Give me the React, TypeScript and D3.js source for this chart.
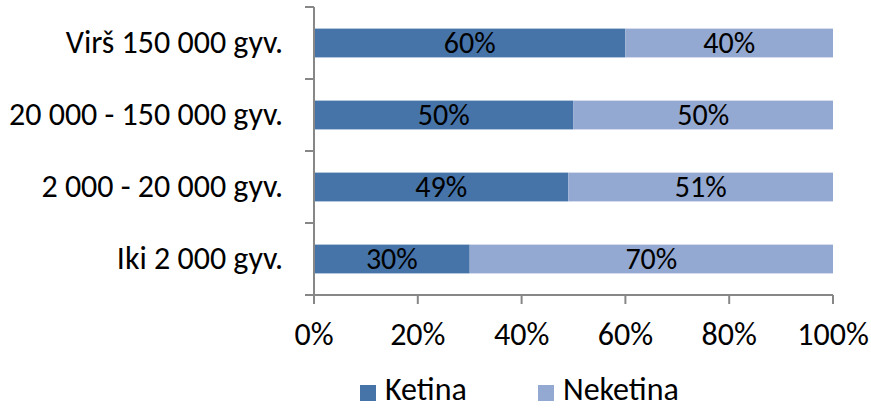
import React, { useRef, useEffect } from "react";
import * as d3 from "d3";

const categories = [
  "Virš 150 000 gyv.",
  "20 000 - 150 000 gyv.",
  "2 000 - 20 000 gyv.",
  "Iki 2 000 gyv.",
];
const ketina = [60, 50, 49, 30];
const neketina = [40, 50, 51, 70];
const seriesNames = ["Ketina", "Neketina"];
const xTicks = [0, 20, 40, 60, 80, 100];

const colors = ["#4674A9", "#94A9D1"];
const FONT = "Carlito, Lato, sans-serif";

const App = () => {
  const ref = useRef<SVGSVGElement>(null);

  useEffect(() => {
    const svg = d3.select(ref.current);
    svg.selectAll("*").remove();

    const W = 871;
    const H = 409;
    svg.attr("width", W).attr("height", H);

    const left = 314;
    const right = 833;
    const top = 7;
    const bottom = 295;

    const x = d3.scaleLinear().domain([0, 100]).range([left, right]);
    const y = d3
      .scaleBand()
      .domain(categories)
      .range([top, bottom])
      .paddingInner(0.6)
      .paddingOuter(0.3);

    const rows = categories.map((c, i) => ({
      cat: c,
      Ketina: ketina[i],
      Neketina: neketina[i],
    }));
    const stacked = d3.stack<any>().keys(seriesNames)(rows);

    // bars + value labels
    stacked.forEach((layer, li) => {
      const g = svg.append("g");
      g.selectAll("rect")
        .data(layer)
        .enter()
        .append("rect")
        .attr("x", (d) => x(d[0]))
        .attr("y", (d) => y(d.data.cat)!)
        .attr("width", (d) => x(d[1]) - x(d[0]))
        .attr("height", y.bandwidth())
        .attr("fill", colors[li]);

      g.selectAll("text")
        .data(layer)
        .enter()
        .append("text")
        .attr("x", (d) => (x(d[0]) + x(d[1])) / 2)
        .attr("y", (d) => y(d.data.cat)! + y.bandwidth() / 2 + 9.5)
        .attr("text-anchor", "middle")
        .style("font-family", FONT)
        .style("font-size", "30px")
        .attr("fill", "#000")
        .text((d) => `${d[1] - d[0]}%`);
    });

    const axisColor = "#878787";

    // y axis
    svg
      .append("line")
      .attr("x1", left)
      .attr("x2", left)
      .attr("y1", top)
      .attr("y2", bottom)
      .attr("stroke", axisColor)
      .attr("stroke-width", 2);

    const bounds = categories.map((c) => y(c)! - (y.step() * y.paddingInner()) / 2);
    bounds.push(bottom);
    svg
      .append("g")
      .selectAll("line")
      .data(bounds)
      .enter()
      .append("line")
      .attr("x1", left - 9)
      .attr("x2", left)
      .attr("y1", (d) => d)
      .attr("y2", (d) => d)
      .attr("stroke", axisColor)
      .attr("stroke-width", 2);

    svg
      .append("g")
      .selectAll("text")
      .data(categories)
      .enter()
      .append("text")
      .attr("x", 283)
      .attr("y", (d) => y(d)! + y.bandwidth() / 2 + 10)
      .attr("text-anchor", "end")
      .style("font-family", FONT)
      .style("font-size", "32px")
      .attr("fill", "#000")
      .text((d) => d);

    // x axis
    svg
      .append("line")
      .attr("x1", left - 9)
      .attr("x2", right)
      .attr("y1", bottom)
      .attr("y2", bottom)
      .attr("stroke", axisColor)
      .attr("stroke-width", 2);

    svg
      .append("g")
      .selectAll("line")
      .data(xTicks)
      .enter()
      .append("line")
      .attr("x1", (d) => x(d))
      .attr("x2", (d) => x(d))
      .attr("y1", bottom)
      .attr("y2", bottom + 9)
      .attr("stroke", axisColor)
      .attr("stroke-width", 2);

    svg
      .append("g")
      .selectAll("text")
      .data(xTicks)
      .enter()
      .append("text")
      .attr("x", (d) => x(d))
      .attr("y", 345)
      .attr("text-anchor", "middle")
      .style("font-family", FONT)
      .style("font-size", "32px")
      .attr("fill", "#000")
      .text((d) => `${d}%`);

    // legend
    const legendX = [360, 538];
    const legend = svg
      .append("g")
      .selectAll("g")
      .data(seriesNames)
      .enter()
      .append("g")
      .attr("transform", (d, i) => `translate(${legendX[i]}, 385)`);
    legend
      .append("rect")
      .attr("width", 16)
      .attr("height", 16)
      .attr("fill", (d, i) => colors[i]);
    legend
      .append("text")
      .attr("x", 25)
      .attr("y", 15)
      .style("font-family", FONT)
      .style("font-size", "32px")
      .attr("fill", "#000")
      .text((d) => d);
  }, []);

  return (
    <svg
      ref={ref}
      style={{ position: "absolute", left: 0, top: 0, background: "#fff" }}
    ></svg>
  );
};

export default App;
